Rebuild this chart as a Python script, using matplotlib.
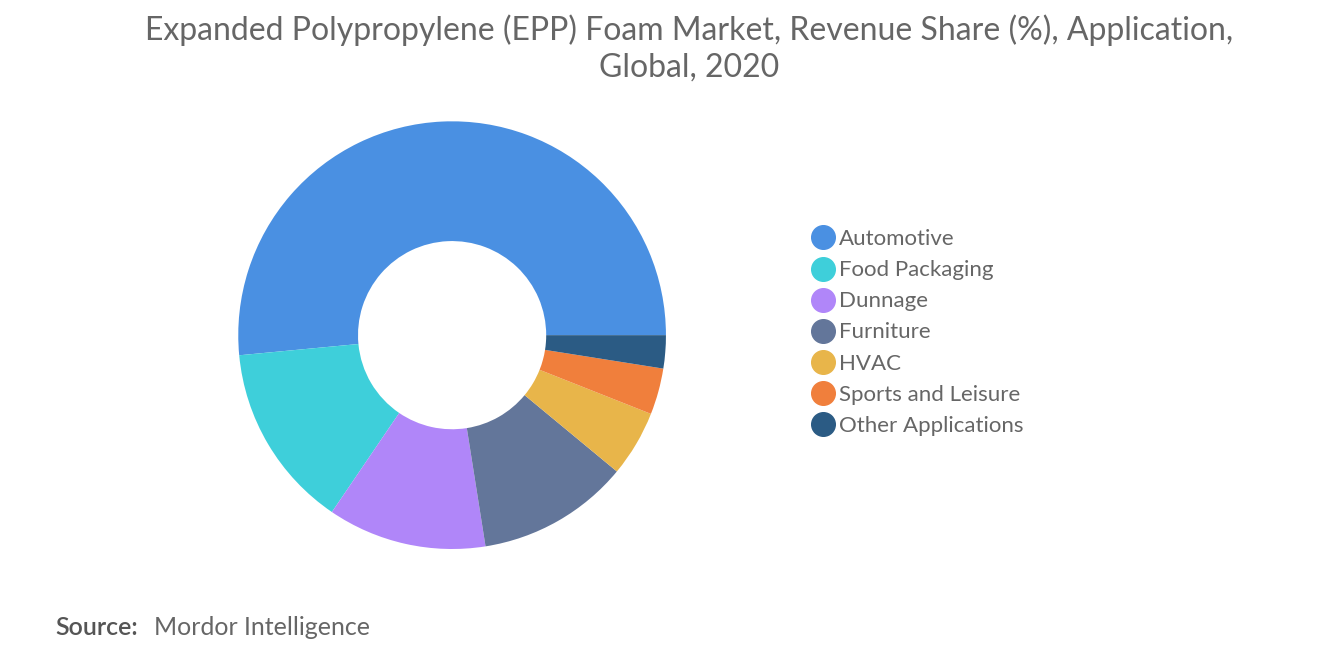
import matplotlib.pyplot as plt
from matplotlib.lines import Line2D

labels = ['Automotive', 'Food Packaging', 'Dunnage', 'Furniture', 'HVAC',
          'Sports and Leisure', 'Other Applications']
shares = [51.5, 14.0, 12.0, 11.5, 5.0, 3.5, 2.5]
colors = ['#4a90e2', '#3ecfda', '#b086f9', '#63769a', '#e8b54a', '#f07f3c', '#2b5b84']

fig = plt.figure(figsize=(13.2, 6.65), dpi=100)
ax = fig.add_axes([0.14, 0.092, 0.405, 0.808])
wedges, _ = ax.pie(shares, colors=colors, startangle=0, counterclock=True,
                   wedgeprops=dict(width=0.56, linewidth=0))
ax.set_aspect('equal')

fig.text(0.522, 0.978, 'Expanded Polypropylene (EPP) Foam Market, Revenue Share (%), Application,\nGlobal, 2020',
         ha='center', va='top', fontsize=23, color='#666666', family='Lato', linespacing=1.25)

handles = [Line2D([], [], marker='o', linestyle='', markersize=17, color=c) for c in colors]
leg = fig.legend(handles, labels, loc='center left', bbox_to_anchor=(0.6, 0.5),
                 frameon=False, handlelength=1.0, labelspacing=0.5, handletextpad=0.2,
                 prop={'family': 'Lato', 'size': 16})
for t in leg.get_texts():
    t.set_color('#666666')

fig.text(0.042, 0.045, 'Source:', fontsize=18, color='#555555', family='Lato', weight='semibold')
fig.text(0.117, 0.045, 'Mordor Intelligence', fontsize=18, color='#666666', family='Lato')

fig.savefig('out.png', dpi=100)
